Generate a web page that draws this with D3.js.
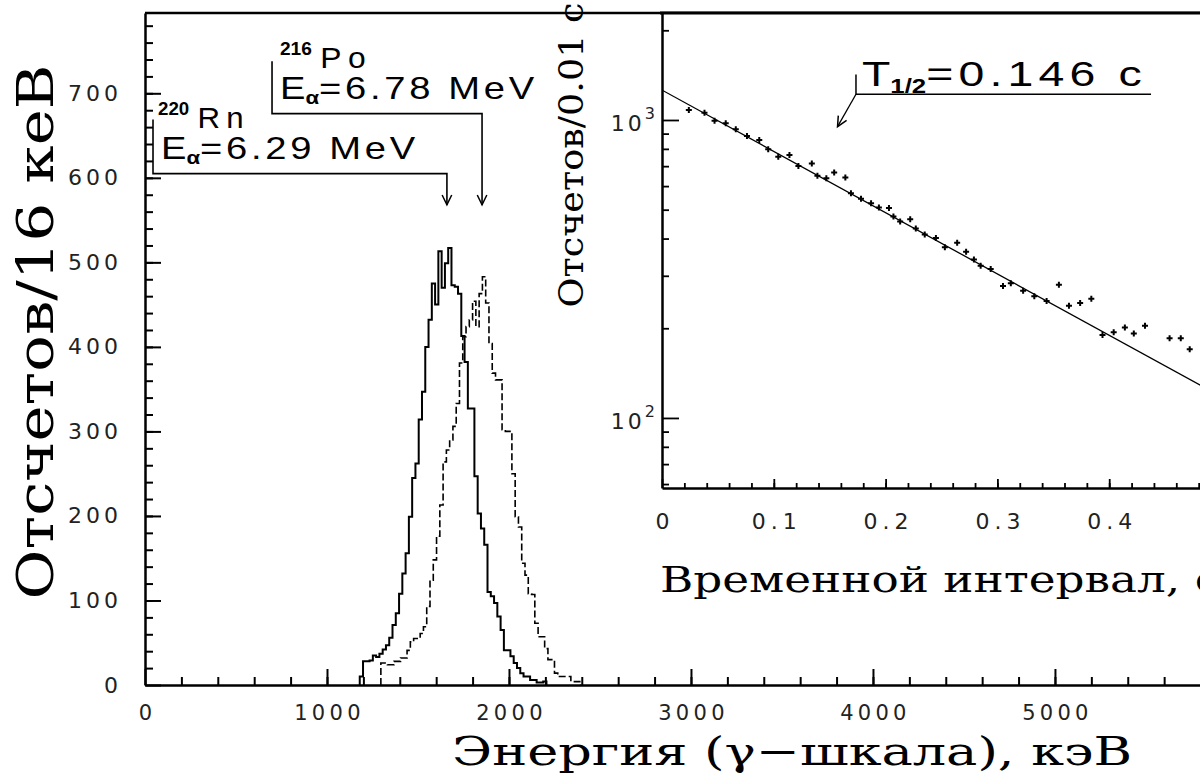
<!DOCTYPE html>
<html>
<head>
<meta charset="utf-8">
<script src="https://cdn.jsdelivr.net/npm/d3@7"></script>
<style>
  body { margin: 0; background: #fff; }
  svg { display: block; }
  .axis path, .axis line { stroke: #000; }
  .axis text { font-family: "DejaVu Sans", sans-serif; fill: #222; }
</style>
</head>
<body>
<div id="chart"></div>
<script>
// ---- main spectrum (counts per bin) ----
const binWidth = 18;
const rnStart = 1180;
const rnCounts = [10, 28, 28, 29, 35, 33, 37, 42, 47, 56, 71, 85, 108, 132, 156, 199, 245, 262, 314, 347,
                  400, 432, 475, 450, 513, 470, 499, 517, 473, 471, 463, 413, 382, 327, 327, 247, 203, 185, 166, 110,
                  105, 97, 81, 65, 41, 41, 34, 26, 20, 14, 10, 10, 6, 6, 3, 3, 4];
const poStart = 1296;
const poCounts = [26, 26, 24, 24, 28, 28, 32, 32, 41, 51, 55, 55, 61, 69, 93, 124, 148, 176, 213, 264,
                  278, 290, 306, 333, 381, 412, 424, 432, 454, 424, 463, 483, 452, 404, 369, 361, 361, 302, 300, 300,
                  250, 199, 187, 144, 130, 108, 107, 73, 57, 57, 43, 30, 30, 14, 10, 10, 10, 10, 4, 4, 4];
const energyTicks = [0, 1000, 2000, 3000, 4000, 5000];
const countTicks = [0, 100, 200, 300, 400, 500, 600, 700];
const rnArrowE = 1659, poArrowE = 1852;

// ---- inset: decay curve ----
const decayT = [0.024, 0.038, 0.047, 0.057, 0.066, 0.076, 0.087, 0.095, 0.104, 0.114, 0.122, 0.134, 0.139, 0.147,
                0.154, 0.164, 0.169, 0.178, 0.187, 0.194, 0.203, 0.207, 0.213, 0.222, 0.227, 0.235, 0.245, 0.253,
                0.264, 0.272, 0.279, 0.285, 0.294, 0.305, 0.312, 0.323, 0.333, 0.344, 0.355, 0.364, 0.374, 0.384,
                0.394, 0.404, 0.414, 0.422, 0.432, 0.454, 0.464, 0.472];
const decayN = [1081, 1058, 995, 975, 931, 884, 857, 797, 753, 763, 701, 715, 650, 637,
                666, 641, 568, 544, 525, 509, 507, 474, 456, 464, 432, 413, 402, 374,
                387, 361, 340, 324, 316, 277, 283, 267, 256, 247, 280, 238, 243, 251,
                190, 194, 201, 192, 204, 185, 185, 170];
const fitT = [0, 0.5];
const fitN = [1260, 118];
const timeTicks = [0, 0.1, 0.2, 0.3, 0.4];
const decadeTicks = [100, 1000];

const W = 1200, H = 773;
const svg = d3.select("#chart").append("svg").attr("width", W).attr("height", H);

// stretch a start-anchored text so it spans [x0, x0+target]
function fitWidth(sel, x0, target) {
  const b = sel.node().getBBox();
  const s = target / b.width;
  sel.attr("transform", `translate(${x0},0) scale(${s},1) translate(${-b.x},0)`);
}

// ===== main plot =====
const x = d3.scaleLinear().domain([0, 5797]).range([145, 1200]);
const y = d3.scaleLinear().domain([0, 795]).range([685, 13]);

// minor ticks
svg.append("g").attr("class", "axis").attr("transform", "translate(0,685)")
  .call(d3.axisBottom(x).tickValues(d3.range(200, 5801, 200)).tickSize(-8).tickSizeOuter(0).tickFormat(""))
  .call(g => g.selectAll("line").attr("stroke-width", 2))
  .call(g => g.select(".domain").remove());
svg.append("g").attr("class", "axis").attr("transform", "translate(145,0)")
  .call(d3.axisLeft(y).tickValues(d3.range(20, 795, 20)).tickSize(-8).tickSizeOuter(0).tickFormat(""))
  .call(g => g.selectAll("line").attr("stroke-width", 2))
  .call(g => g.select(".domain").remove());

// major ticks
svg.append("g").attr("class", "axis").attr("transform", "translate(0,685)")
  .call(d3.axisBottom(x).tickValues(energyTicks).tickSize(-16).tickSizeOuter(0).tickPadding(20).tickFormat(d3.format("d")))
  .call(g => g.selectAll("line").attr("stroke-width", 2))
  .call(g => g.select(".domain").attr("stroke-width", 2.5))
  .call(g => g.selectAll("text").attr("font-size", 21).attr("letter-spacing", 4.3).attr("dx", 2));
svg.append("g").attr("class", "axis").attr("transform", "translate(145,0)")
  .call(d3.axisLeft(y).tickValues(countTicks).tickSize(-16).tickSizeOuter(0).tickPadding(23).tickFormat(d3.format("d")))
  .call(g => g.selectAll("line").attr("stroke-width", 2))
  .call(g => g.select(".domain").attr("stroke-width", 2.5))
  .call(g => g.selectAll("text").attr("font-size", 22).attr("letter-spacing", 4));

// top frame
svg.append("line").attr("x1", 145).attr("x2", 1200).attr("y1", 13).attr("y2", 13)
  .attr("stroke", "#000").attr("stroke-width", 2.5);

// histograms
function histPoints(start, counts) {
  const pts = [[start, 0]];
  counts.forEach((c, i) => pts.push([start + i * binWidth, c]));
  const end = start + counts.length * binWidth;
  pts.push([end, counts[counts.length - 1]]);
  pts.push([end, 0]);
  return pts;
}
const stepLine = d3.line().x(d => x(d[0])).y(d => y(d[1])).curve(d3.curveStepAfter);

svg.append("path").datum(histPoints(poStart, poCounts))
  .attr("fill", "none").attr("stroke", "#000").attr("stroke-width", 1.6)
  .attr("stroke-dasharray", "7,3").attr("d", stepLine);
svg.append("path").datum(histPoints(rnStart, rnCounts))
  .attr("fill", "none").attr("stroke", "#000").attr("stroke-width", 2).attr("d", stepLine);

// axis titles
svg.append("text")
  .attr("transform", "translate(53,332) rotate(-90)")
  .attr("text-anchor", "middle")
  .attr("font-family", "DejaVu Serif, serif").attr("font-size", 50)
  .attr("textLength", 535).attr("lengthAdjust", "spacingAndGlyphs")
  .text("Отсчетов/16 кеВ");
svg.append("text")
  .attr("x", 792).attr("y", 765)
  .attr("text-anchor", "middle")
  .attr("font-family", "DejaVu Serif, serif").attr("font-size", 40)
  .attr("textLength", 680).attr("lengthAdjust", "spacingAndGlyphs")
  .text("Энергия (γ−шкала), кэВ");

// annotations with arrows
function arrowHead(g, x0, y0, x1, y1) {
  const a = Math.atan2(y1 - y0, x1 - x0), L = 11, s = 0.45;
  g.append("path")
    .attr("d", `M${x1 - L * Math.cos(a - s)},${y1 - L * Math.sin(a - s)} L${x1},${y1} L${x1 - L * Math.cos(a + s)},${y1 - L * Math.sin(a + s)}`)
    .attr("fill", "none").attr("stroke", "#000").attr("stroke-width", 1.5);
}
const ann = svg.append("g");
// 220Rn
ann.append("path")
  .attr("d", `M${x(44)},${y(669)} V${y(605)} H${x(rnArrowE)} V${y(568)}`)
  .attr("fill", "none").attr("stroke", "#000").attr("stroke-width", 1.6);
arrowHead(ann, x(rnArrowE), y(605), x(rnArrowE), y(568));
// 216Po
ann.append("path")
  .attr("d", `M${x(698)},${y(738)} V${y(676)} H${x(poArrowE)} V${y(568)}`)
  .attr("fill", "none").attr("stroke", "#000").attr("stroke-width", 1.6);
arrowHead(ann, x(poArrowE), y(676), x(poArrowE), y(568));

function isotope(g, xx, yy, mass, name, width) {
  const t = g.append("text").attr("x", xx).attr("y", yy)
    .attr("font-family", "Liberation Sans, Arial, sans-serif");
  t.append("tspan").attr("font-size", 18).attr("font-weight", "bold").attr("dy", -13).text(mass);
  t.append("tspan").attr("font-size", 30).attr("dy", 13).attr("dx", 8).attr("letter-spacing", 6).text(name);
  fitWidth(t, xx, width);
}
function energy(g, xx, yy, val, width) {
  const t = g.append("text").attr("x", xx).attr("y", yy)
    .attr("font-family", "Liberation Sans, Arial, sans-serif").attr("font-size", 31);
  t.append("tspan").text("E");
  t.append("tspan").attr("font-size", 18).attr("font-weight", "bold").attr("dy", 5).text("α");
  t.append("tspan").attr("dy", -5).attr("letter-spacing", 3).text("=" + val + " MeV");
  fitWidth(t, xx, width);
}
isotope(ann, 158, 128, "220", "Rn", 92);
energy(ann, 161, 159, "6.29", 258);
isotope(ann, 280, 68, "216", "Po", 92);
energy(ann, 280, 99, "6.78", 258);

// ===== inset =====
const xi = d3.scaleLinear().domain([0, 0.4812]).range([662, 1200]);
const yi = d3.scaleLog().domain([58.2, 2286]).range([488, 13]);

svg.append("rect").attr("x", 662).attr("y", 13).attr("width", 538).attr("height", 475).attr("fill", "#fff");
svg.append("line").attr("x1", 660).attr("x2", 1200).attr("y1", 13).attr("y2", 13)
  .attr("stroke", "#000").attr("stroke-width", 3);

svg.append("g").attr("class", "axis").attr("transform", "translate(0,488)")
  .call(d3.axisBottom(xi).tickValues(d3.range(1, 25).map(i => i * 0.02)).tickSize(-5).tickSizeOuter(0).tickFormat(""))
  .call(g => g.selectAll("line").attr("stroke-width", 1.8))
  .call(g => g.select(".domain").remove());
svg.append("g").attr("class", "axis").attr("transform", "translate(0,488)")
  .call(d3.axisBottom(xi).tickValues(timeTicks).tickSize(-9).tickSizeOuter(0).tickPadding(25)
    .tickFormat(d => d === 0 ? "0" : d3.format(".1f")(d)))
  .call(g => g.selectAll("line").attr("stroke-width", 1.8))
  .call(g => g.select(".domain").attr("stroke-width", 2.5))
  .call(g => g.selectAll("text").attr("font-size", 22).attr("letter-spacing", 5).attr("dx", 2.5));

const minorLog = [60, 70, 80, 90, 200, 300, 400, 500, 600, 700, 800, 900, 2000];
svg.append("g").attr("class", "axis").attr("transform", "translate(662,0)")
  .call(d3.axisLeft(yi).tickValues(minorLog).tickSize(-7).tickSizeOuter(0).tickFormat(""))
  .call(g => g.selectAll("line").attr("stroke-width", 1.8))
  .call(g => g.select(".domain").remove());
svg.append("g").attr("class", "axis").attr("transform", "translate(662,0)")
  .call(d3.axisLeft(yi).tickValues(decadeTicks).tickSize(-17).tickSizeOuter(0).tickPadding(4).tickFormat(""))
  .call(g => g.selectAll("line").attr("stroke-width", 1.8))
  .call(g => g.select(".domain").attr("stroke-width", 2.5))
  .call(g => g.selectAll(".tick text").each(function(d) {
    const t = d3.select(this).attr("font-size", 22).attr("letter-spacing", 3).attr("dy", "0.5em");
    t.append("tspan").text("10");
    t.append("tspan").attr("font-size", 16).attr("dy", "-0.75em").text(Math.round(Math.log10(d)));
  }));

svg.append("clipPath").attr("id", "insetClip")
  .append("rect").attr("x", 663).attr("y", 14).attr("width", 537).attr("height", 473);

svg.append("path")
  .datum(fitT.map((t, i) => [t, fitN[i]]))
  .attr("clip-path", "url(#insetClip)")
  .attr("fill", "none").attr("stroke", "#000").attr("stroke-width", 1.3)
  .attr("d", d3.line().x(d => xi(d[0])).y(d => yi(d[1])));

svg.append("g").selectAll("path")
  .data(decayT.map((t, i) => [t, decayN[i]]))
  .join("path")
  .attr("transform", d => `translate(${xi(d[0])},${yi(d[1])})`)
  .attr("d", d3.symbol(d3.symbolCross, 20))
  .attr("fill", "#000");

svg.append("text")
  .attr("transform", "translate(583,155) rotate(-90)")
  .attr("text-anchor", "middle")
  .attr("font-family", "DejaVu Serif, serif").attr("font-size", 34)
  .attr("textLength", 305).attr("lengthAdjust", "spacingAndGlyphs")
  .text("Отсчетов/0.01 с");
svg.append("text")
  .attr("x", 660).attr("y", 592)
  .attr("font-family", "DejaVu Serif, serif").attr("font-size", 35)
  .attr("textLength", 560).attr("lengthAdjust", "spacingAndGlyphs")
  .text("Временной интервал, с");

// half-life annotation
const ia = svg.append("g");
ia.append("path")
  .attr("d", `M${xi(0.1735)},${yi(1420)} V${yi(1220)} H${xi(0.4374)}`)
  .attr("fill", "none").attr("stroke", "#000").attr("stroke-width", 1.5);
ia.append("line")
  .attr("x1", xi(0.1735)).attr("y1", yi(1220)).attr("x2", xi(0.157)).attr("y2", yi(950))
  .attr("stroke", "#000").attr("stroke-width", 1.3);
arrowHead(ia, xi(0.1735), yi(1220), xi(0.157), yi(950));
const tt = ia.append("text").attr("x", 862).attr("y", 86)
  .attr("font-family", "Liberation Sans, Arial, sans-serif").attr("font-size", 36);
tt.append("tspan").text("T");
tt.append("tspan").attr("font-size", 20).attr("font-weight", "bold").attr("dy", 7).text("1/2");
tt.append("tspan").attr("dy", -7).attr("letter-spacing", 4).text("=0.146 c");
fitWidth(tt, 862, 285);
</script>
</body>
</html>
